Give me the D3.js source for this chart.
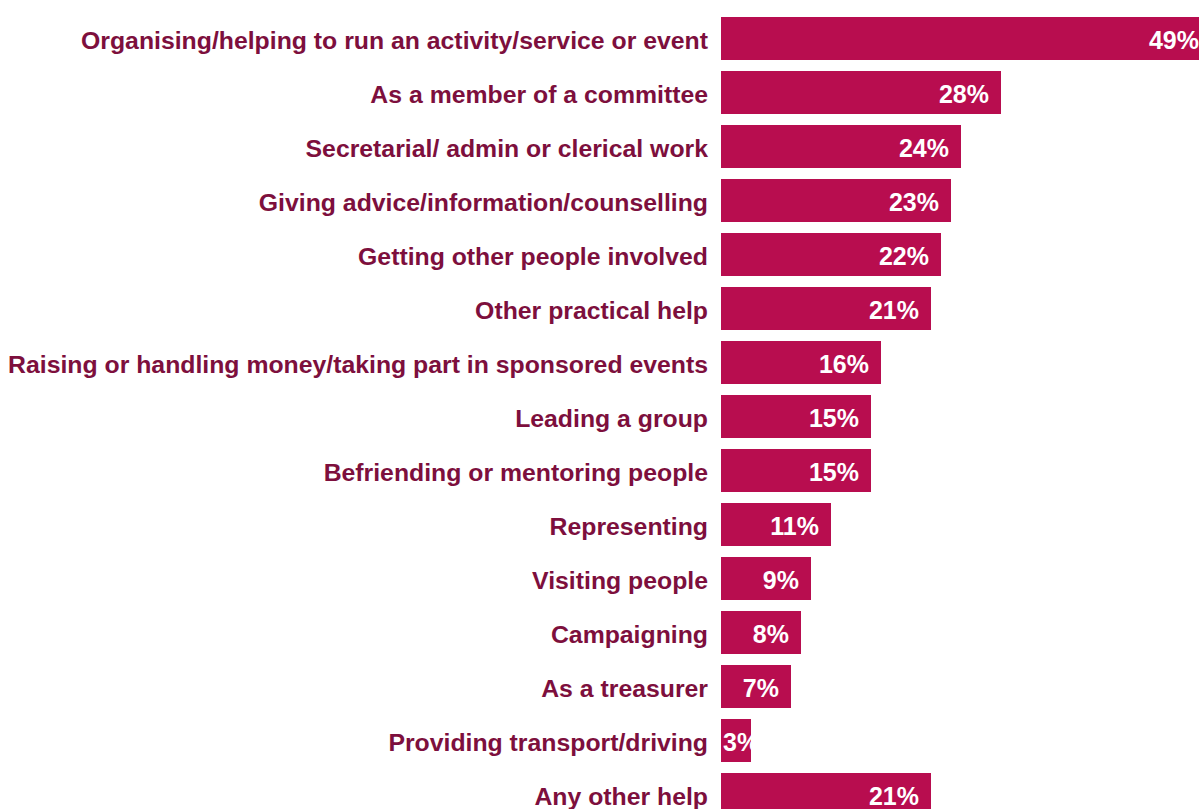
<!DOCTYPE html>
<html>
<head>
<meta charset="utf-8">
<script src="https://cdn.jsdelivr.net/npm/d3@7"></script>
<style>
  html, body { margin: 0; padding: 0; background: #fff; }
  svg { display: block; }
  text { font-family: "Liberation Sans", Arial, Helvetica, sans-serif; font-weight: bold; }
</style>
</head>
<body>
<svg id="chart" width="1199" height="809"></svg>
<script>
// Types of help given by volunteers (% of respondents)
const categories = [
  "Organising/helping to run an activity/service or event",
  "As a member of a committee",
  "Secretarial/ admin or clerical work",
  "Giving advice/information/counselling",
  "Getting other people involved",
  "Other practical help",
  "Raising or handling money/taking part in sponsored events",
  "Leading a group",
  "Befriending or mentoring people",
  "Representing",
  "Visiting people",
  "Campaigning",
  "As a treasurer",
  "Providing transport/driving",
  "Any other help"
];
const values = [49, 28, 24, 23, 22, 21, 16, 15, 15, 11, 9, 8, 7, 3, 21];

const svg = d3.select("#chart");
const x0 = 721;
const barColor = "#b80d4f";
const labelColor = "#7d0f3d";

const x = d3.scaleLinear().domain([0, 50]).range([x0, x0 + 500]);
const y = d3.scaleBand()
  .domain(categories)
  .range([17 - 5.5, 17 - 5.5 + 54 * categories.length])
  .paddingInner(11 / 54)
  .paddingOuter(5.5 / 54);

const data = categories.map((c, i) => ({ cat: c, val: values[i], i }));

// Each value label is clipped to its own bar
svg.append("defs")
  .selectAll("clipPath")
  .data(data)
  .join("clipPath")
  .attr("id", d => "clip" + d.i)
  .append("rect")
  .attr("x", x(0))
  .attr("y", d => y(d.cat))
  .attr("width", d => x(d.val) - x(0))
  .attr("height", y.bandwidth());

// Bars
svg.append("g")
  .selectAll("rect")
  .data(data)
  .join("rect")
  .attr("x", x(0))
  .attr("y", d => y(d.cat))
  .attr("width", d => x(d.val) - x(0))
  .attr("height", y.bandwidth())
  .attr("fill", barColor);

// Category labels
svg.append("g")
  .selectAll("text")
  .data(data)
  .join("text")
  .attr("x", x(0) - 13)
  .attr("y", d => y(d.cat) + y.bandwidth() / 2 + 10.5)
  .attr("text-anchor", "end")
  .attr("font-size", 24.8)
  .attr("fill", labelColor)
  .text(d => d.cat);

// Value labels inside the bars
const vals = svg.append("g")
  .selectAll("text")
  .data(data)
  .join("text")
  .attr("clip-path", d => `url(#clip${d.i})`)
  .attr("y", d => y(d.cat) + y.bandwidth() / 2 + 10.5)
  .attr("font-size", 25)
  .attr("fill", "#fff")
  .text(d => d.val + "%");

vals.each(function(d) {
  const w = this.getComputedTextLength();
  const end = x(d.val) - 12;
  const start = Math.max(end - w, x(0) + 2);
  d3.select(this).attr("x", start);
});
</script>
</body>
</html>
